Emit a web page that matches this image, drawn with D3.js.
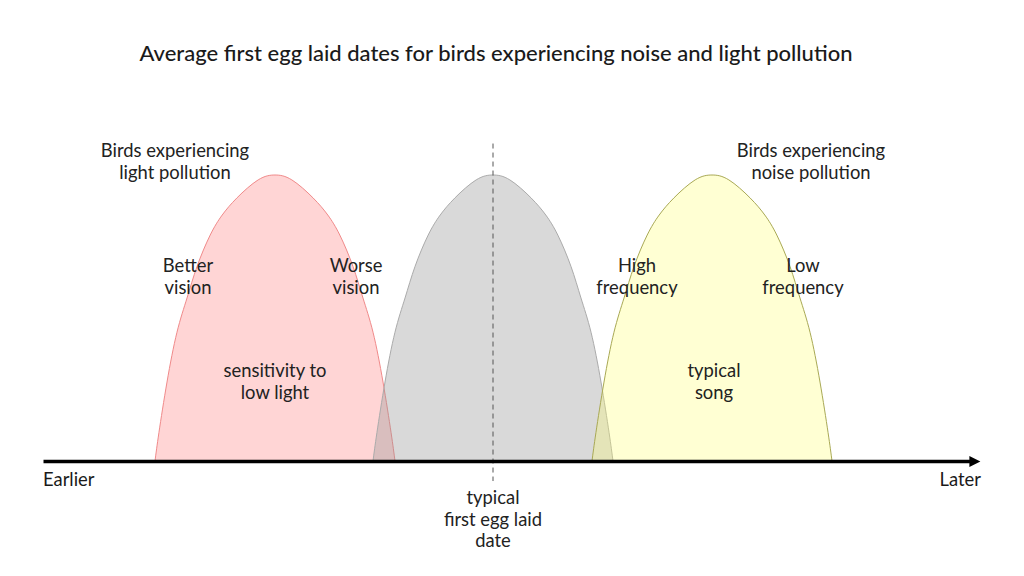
<!DOCTYPE html>
<html>
<head>
<meta charset="utf-8">
<script src="https://cdn.jsdelivr.net/npm/d3@7"></script>
<style>
  html, body { margin: 0; padding: 0; background: #fff; }
  svg { display: block; font-family: Lato, "Open Sans", sans-serif; }
</style>
</head>
<body>
<svg id="chart" width="1024" height="576"></svg>
<script>
// Curve centres on the time axis (days relative to the typical first-egg date)
const seriesNames = ["light", "typical", "noise"];
const seriesCentres = [-21.8, 0, 21.9];
const halfWidth = 12;

// Shape of each bell: offset from centre (fraction of half width) and relative height
const profileOffsets = [-1, -0.967, -0.9, -0.817, -0.733, -0.65, -0.54, -0.44, -0.317, -0.14, 0, 0.14, 0.317, 0.44, 0.54, 0.65, 0.733, 0.817, 0.9, 0.967, 1];
const profileHeights = [0, 0.1, 0.276, 0.45, 0.57, 0.68, 0.79, 0.86, 0.92, 0.983, 1, 0.983, 0.92, 0.86, 0.79, 0.68, 0.57, 0.45, 0.276, 0.1, 0];

// Text labels with their anchor in data units (days, relative height)
const labelLines = [
  ["Birds experiencing", "light pollution"],
  ["Birds experiencing", "noise pollution"],
  ["Better", "vision"],
  ["Worse", "vision"],
  ["sensitivity to", "low light"],
  ["High", "frequency"],
  ["Low", "frequency"],
  ["typical", "song"],
  ["typical", "first egg laid", "date"]
];
const labelDays = [-31.8, 31.8, -30.5, -13.7, -21.8, 14.4, 31, 22.1, 0];
const labelLevels = [1.087, 1.087, 0.685, 0.685, 0.318, 0.685, 0.685, 0.318, -0.126];

const title = "Average first egg laid dates for birds experiencing noise and light pollution";
const axisStart = "Earlier";
const axisEnd = "Later";

const fills = { light: "rgba(255,110,110,0.29)", typical: "rgba(150,150,150,0.36)", noise: "rgba(255,255,110,0.30)" };
const strokes = { light: "#f08a8a", typical: "#ababab", noise: "#a9a955" };

const svg = d3.select("#chart");

const x = d3.scaleLinear().domain([-45, 49]).range([43, 983]);
const y = d3.scaleLinear().domain([0, 1]).range([461, 175]);

// Title
svg.append("text")
  .attr("x", 496)
  .attr("y", 52)
  .attr("text-anchor", "middle")
  .attr("dominant-baseline", "central")
  .attr("font-size", 22)
  .attr("font-weight", 500)
  .attr("fill", "#1a1a1a")
  .text(title);

// Bells
const area = d3.area()
  .x(d => x(d.day))
  .y0(y(0))
  .y1(d => y(d.h))
  .curve(d3.curveNatural);

const line = d3.line()
  .x(d => x(d.day))
  .y(d => y(d.h))
  .curve(d3.curveNatural);

seriesNames.forEach(function(name, i) {
  const pts = profileOffsets.map((t, j) => ({ day: seriesCentres[i] + t * halfWidth, h: profileHeights[j] }));
  svg.append("path")
    .datum(pts)
    .attr("d", area)
    .attr("fill", fills[name]);
  svg.append("path")
    .datum(pts)
    .attr("d", line)
    .attr("fill", "none")
    .attr("stroke", strokes[name])
    .attr("stroke-width", 1);
});

// Typical date dashed line
svg.append("line")
  .attr("x1", x(0)).attr("x2", x(0))
  .attr("y1", y(1.11)).attr("y2", y(-0.07))
  .attr("stroke", "#555")
  .attr("stroke-width", 1)
  .attr("stroke-dasharray", "5,4");

// Arrow head for the axis
svg.append("defs").append("marker")
  .attr("id", "arrow")
  .attr("viewBox", "0 0 10 10")
  .attr("refX", 1)
  .attr("refY", 5)
  .attr("markerUnits", "userSpaceOnUse")
  .attr("markerWidth", 14)
  .attr("markerHeight", 11)
  .attr("orient", "auto")
  .append("path")
  .attr("d", "M0,0 L10,5 L0,10 Z")
  .attr("fill", "#000");

// Time axis (no ticks)
const axis = svg.append("g")
  .attr("transform", "translate(0," + y(0) + ")")
  .call(d3.axisBottom(x.copy().range([43, 970])).tickValues([]).tickSizeOuter(0));
axis.select(".domain")
  .attr("stroke", "#000")
  .attr("stroke-width", 3.5)
  .attr("marker-end", "url(#arrow)");

svg.append("text")
  .attr("x", 43)
  .attr("y", y(0) + 18)
  .attr("dominant-baseline", "central")
  .attr("font-size", 18.4)
  .attr("fill", "#1a1a1a")
  .text(axisStart);

svg.append("text")
  .attr("x", 981)
  .attr("y", y(0) + 18)
  .attr("text-anchor", "end")
  .attr("dominant-baseline", "central")
  .attr("font-size", 18.4)
  .attr("fill", "#1a1a1a")
  .text(axisEnd);

// Annotation labels
labelLines.forEach(function(lines, i) {
  const t = svg.append("text")
    .attr("text-anchor", "middle")
    .attr("font-size", 18.4)
    .attr("fill", "#222");
  lines.forEach(function(s, k) {
    t.append("tspan")
      .attr("x", x(labelDays[i]))
      .attr("y", y(labelLevels[i]) + k * 21.5)
      .attr("dominant-baseline", "central")
      .text(s);
  });
});
</script>
</body>
</html>
